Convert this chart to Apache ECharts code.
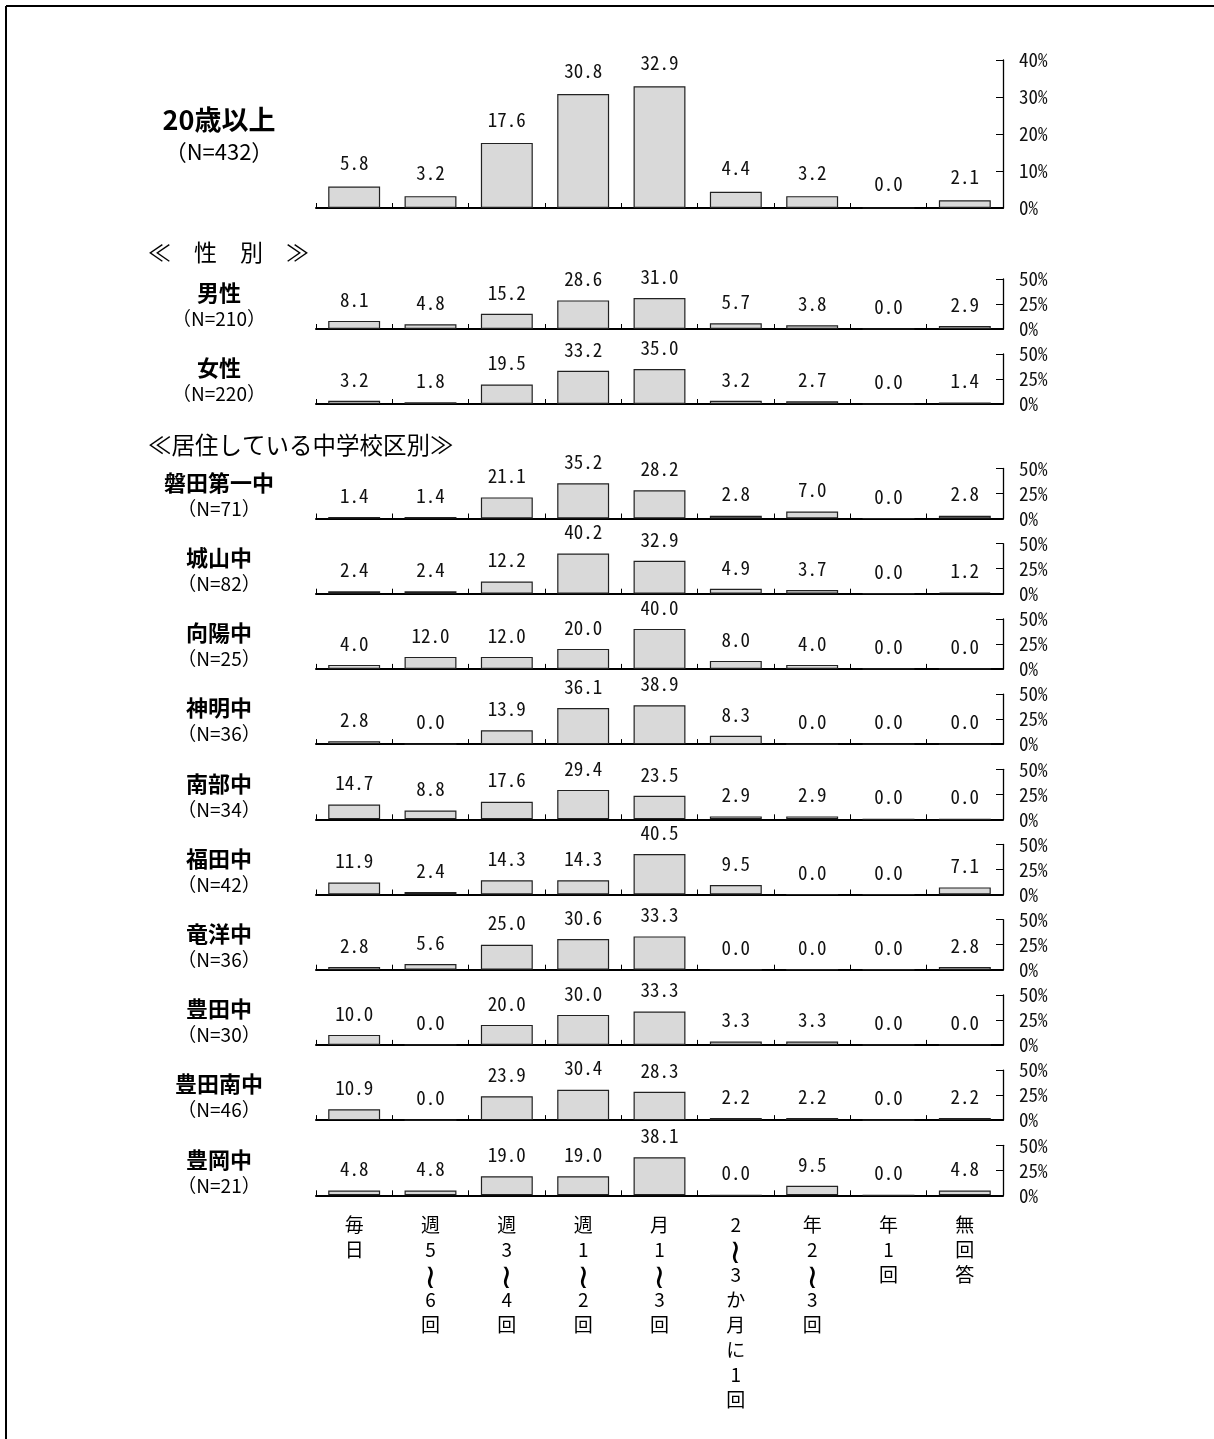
<!DOCTYPE html>
<html lang="ja">
<head>
<meta charset="utf-8">
<title>頻度 回答分布</title>
<script src="https://cdn.jsdelivr.net/npm/echarts@6/dist/echarts.min.js"></script>
<style>
  html, body { margin: 0; padding: 0; background: #fff; }
  #chart { width: 1214px; height: 1439px; }
</style>
</head>
<body>
<div id="chart"></div>
<script>
// Answer categories (x axis), shared by every panel
const categories = ['毎日', '週5～6回', '週3～4回', '週1～2回', '月1～3回', '2～3か月に1回', '年2～3回', '年1回', '無回答'];

// Percent values per group
const vAll      = [5.8, 3.2, 17.6, 30.8, 32.9, 4.4, 3.2, 0.0, 2.1];
const vMale     = [8.1, 4.8, 15.2, 28.6, 31.0, 5.7, 3.8, 0.0, 2.9];
const vFemale   = [3.2, 1.8, 19.5, 33.2, 35.0, 3.2, 2.7, 0.0, 1.4];
const vIwataDai1 = [1.4, 1.4, 21.1, 35.2, 28.2, 2.8, 7.0, 0.0, 2.8];
const vShiroyama = [2.4, 2.4, 12.2, 40.2, 32.9, 4.9, 3.7, 0.0, 1.2];
const vKoyo      = [4.0, 12.0, 12.0, 20.0, 40.0, 8.0, 4.0, 0.0, 0.0];
const vShinmei   = [2.8, 0.0, 13.9, 36.1, 38.9, 8.3, 0.0, 0.0, 0.0];
const vNanbu     = [14.7, 8.8, 17.6, 29.4, 23.5, 2.9, 2.9, 0.0, 0.0];
const vFukude    = [11.9, 2.4, 14.3, 14.3, 40.5, 9.5, 0.0, 0.0, 7.1];
const vRyuyo     = [2.8, 5.6, 25.0, 30.6, 33.3, 0.0, 0.0, 0.0, 2.8];
const vToyoda    = [10.0, 0.0, 20.0, 30.0, 33.3, 3.3, 3.3, 0.0, 0.0];
const vToyodaMinami = [10.9, 0.0, 23.9, 30.4, 28.3, 2.2, 2.2, 0.0, 2.2];
const vToyooka   = [4.8, 4.8, 19.0, 19.0, 38.1, 0.0, 9.5, 0.0, 4.8];

// Group names and sample sizes
const groupNames = ['20歳以上', '男性', '女性', '磐田第一中', '城山中', '向陽中', '神明中', '南部中', '福田中', '竜洋中', '豊田中', '豊田南中', '豊岡中'];
const groupN     = [432, 210, 220, 71, 82, 25, 36, 34, 42, 36, 30, 46, 21];
const groupValues = [vAll, vMale, vFemale, vIwataDai1, vShiroyama, vKoyo, vShinmei, vNanbu, vFukude, vRyuyo, vToyoda, vToyodaMinami, vToyooka];

// Percent axis ticks
const ticksTotal = [0, 10, 20, 30, 40];
const ticksGroup = [0, 25, 50];

// Section headings
const headingSex = '≪　性　別　≫';
const headingSchool = '≪居住している中学校区別≫';

// ---- layout ----
const JP = '"Noto Sans CJK JP", "Noto Sans", sans-serif';
const MONO = '"Noto Sans Mono CJK JP", "DejaVu Sans Mono", monospace';
const PLOT_LEFT = 316, PLOT_RIGHT = 211;
const baselines = [208, 329, 404];
for (let i = 0; i < 10; i++) baselines.push(518.5 + i * 75.2);

const grids = [], xAxes = [], yAxes = [], series = [], graphics = [];
const last = groupValues.length - 1;

groupValues.forEach((vals, i) => {
  const big = i === 0;
  const ticks = big ? ticksTotal : ticksGroup;
  const h = big ? 148 : 50;
  grids.push({ left: PLOT_LEFT, right: PLOT_RIGHT, top: baselines[i] - h, height: h });
  xAxes.push({
    type: 'category', gridIndex: i, data: categories, boundaryGap: true,
    axisLine: { show: true, lineStyle: { color: '#000', width: 2 } },
    axisTick: { show: true, inside: true, length: 5, lineStyle: { color: '#000', width: 1 } },
    axisLabel: {
      show: i === last, interval: 0, margin: 17,
      fontFamily: JP, fontSize: 19, lineHeight: 25, color: '#000',
      // stacked vertical text; the wave dash takes its vertical form
      formatter: s => Array.from(s).map(c => c === '～' ? '{w|≀}' : c).join('\n'),
      rich: {
        w: { fontFamily: JP, fontSize: 34, lineHeight: 25, color: '#000' }
      }
    }
  });
  yAxes.push({
    type: 'value', gridIndex: i, position: 'right',
    min: ticks[0], max: ticks[ticks.length - 1], interval: ticks[1] - ticks[0],
    axisLine: { show: true, lineStyle: { color: '#000', width: 1.3 } },
    axisTick: { show: true, inside: true, length: 7, lineStyle: { color: '#000', width: 1 } },
    splitLine: { show: false },
    axisLabel: { formatter: '{value}%', margin: 16, fontFamily: MONO, fontSize: 19, color: '#111' }
  });
  series.push({
    type: 'bar', xAxisIndex: i, yAxisIndex: i, data: vals, barWidth: '68%',
    itemStyle: { color: '#d9d9d9', borderColor: '#222', borderWidth: 1.2 },
    label: {
      show: true, position: 'top', distance: big ? 14 : 12,
      fontFamily: MONO, fontSize: 19, color: '#111',
      formatter: p => p.value.toFixed(1)
    },
    silent: true, animation: false
  });

  // group name and sample size at the left of each panel
  const b = baselines[i];
  graphics.push({
    type: 'text',
    style: {
      text: groupNames[i], x: 219, y: big ? b - 88 : b - 36,
      align: 'center', verticalAlign: 'middle', textAlign: 'center', textVerticalAlign: 'middle',
      fontFamily: JP, fontWeight: 'bold', fontSize: big ? 27 : 22, fill: '#000'
    }
  });
  graphics.push({
    type: 'text',
    style: {
      text: '（N=' + groupN[i] + '）', x: 219, y: big ? b - 56 : b - 10,
      align: 'center', verticalAlign: 'middle', textAlign: 'center', textVerticalAlign: 'middle',
      fontFamily: JP, fontSize: big ? 22 : 19, fill: '#000'
    }
  });
});

graphics.push({
  type: 'text',
  style: { text: headingSex, x: 148, y: 252, verticalAlign: 'middle', textVerticalAlign: 'middle',
           fontFamily: JP, fontSize: 23, fill: '#000' }
});
graphics.push({
  type: 'text',
  style: { text: headingSchool, x: 148, y: 445, verticalAlign: 'middle', textVerticalAlign: 'middle',
           fontFamily: JP, fontSize: 23.5, fill: '#000' }
});
// frame lines along the top and left edges
graphics.push({ type: 'line', shape: { x1: 6, y1: 6, x2: 1214, y2: 6 }, style: { stroke: '#000', lineWidth: 2 } });
graphics.push({ type: 'line', shape: { x1: 6, y1: 6, x2: 6, y2: 1439 }, style: { stroke: '#000', lineWidth: 2 } });

const chart = echarts.init(document.getElementById('chart'), null, { renderer: 'canvas' });
chart.setOption({
  animation: false,
  backgroundColor: '#fff',
  grid: grids,
  xAxis: xAxes,
  yAxis: yAxes,
  series: series,
  graphic: graphics
});
</script>
</body>
</html>
